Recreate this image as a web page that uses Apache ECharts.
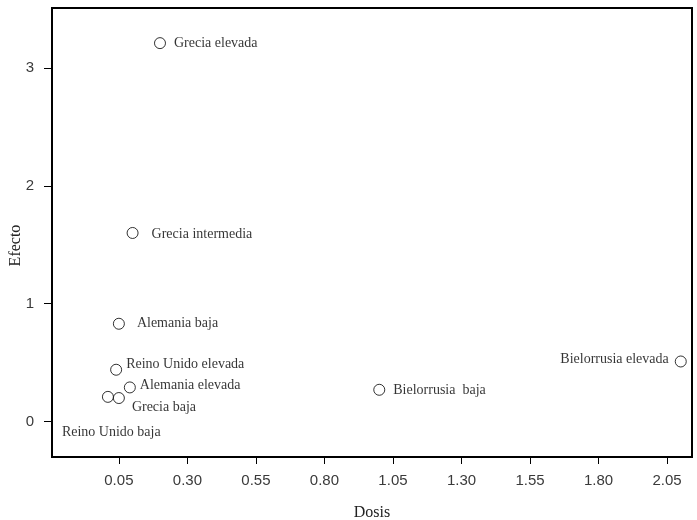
<!DOCTYPE html>
<html>
<head>
<meta charset="utf-8">
<script src="https://cdn.jsdelivr.net/npm/echarts@6/dist/echarts.min.js"></script>
<style>
  html, body { margin: 0; padding: 0; background: #fff; }
  #chart { width: 697px; height: 520px; }
</style>
</head>
<body>
<div id="chart"></div>
<script>
// Point names, dose (x) and effect (y)
const names = [
  'Grecia elevada', 'Grecia intermedia', 'Alemania baja', 'Reino Unido elevada',
  'Alemania elevada', 'Reino Unido baja', 'Grecia baja', 'Bielorrusia  baja',
  'Bielorrusia elevada'
];
const dosis  = [0.20, 0.10, 0.05, 0.04, 0.09, 0.01, 0.05, 1.00, 2.10];
const efecto = [3.21, 1.60, 0.83, 0.44, 0.29, 0.21, 0.20, 0.27, 0.51];

// Tick values
const xTicks = [0.05, 0.30, 0.55, 0.80, 1.05, 1.30, 1.55, 1.80, 2.05];
const yTicks = [0, 1, 2, 3];

// Where each name sits relative to its circle
const labelPlacement = {
  'Grecia elevada':      { position: 'right', offset: [8, 0] },
  'Grecia intermedia':   { position: 'right', offset: [13, 1] },
  'Alemania baja':       { position: 'right', offset: [12, 0] },
  'Reino Unido elevada': { position: 'right', offset: [4, -5] },
  'Alemania elevada':    { position: 'right', offset: [4, -2] },
  'Reino Unido baja':    { position: 'right', offset: [-52, 35] },
  'Grecia baja':         { position: 'right', offset: [7, 9] },
  'Bielorrusia  baja':   { position: 'right', offset: [8, 1] },
  'Bielorrusia elevada': { position: 'left',  offset: [-6, -2] }
};

const serif = '"Liberation Serif", "DejaVu Serif", serif';
const sans = '"Liberation Sans", Arial, sans-serif';

const points = names.map((n, i) => {
  const p = labelPlacement[n];
  return {
    name: n,
    value: [dosis[i], efecto[i]],
    label: { position: p.position, distance: 0, offset: p.offset }
  };
});

const chart = echarts.init(document.getElementById('chart'), null, { renderer: 'canvas' });

chart.setOption({
  animation: false,
  backgroundColor: '#ffffff',
  grid: {
    left: 52, right: 5, top: 8, bottom: 63,
    outerBoundsMode: 'none',
    containLabel: false,
    show: true, borderColor: '#000', borderWidth: 2, backgroundColor: 'transparent'
  },
  xAxis: {
    type: 'value',
    min: -0.194, max: 2.141,
    name: 'Dosis',
    nameLocation: 'middle',
    nameGap: 48,
    nameMoveOverlap: false,
    nameTextStyle: { fontFamily: serif, fontSize: 16, color: '#222' },
    axisLine: { show: false, onZero: false },
    splitLine: { show: false },
    axisTick: { show: true, length: 7, inside: false, customValues: xTicks,
                lineStyle: { color: '#000', width: 1 } },
    axisLabel: {
      customValues: xTicks,
      margin: 16,
      fontFamily: sans, fontSize: 15, color: '#3a3a3a',
      formatter: v => v.toFixed(2)
    }
  },
  yAxis: {
    type: 'value',
    min: -0.30, max: 3.508,
    name: 'Efecto',
    nameLocation: 'middle',
    nameGap: 28,
    nameMoveOverlap: false,
    nameTextStyle: { fontFamily: serif, fontSize: 16, color: '#222', padding: [0, 26, 0, 0] },
    axisLine: { show: false, onZero: false },
    splitLine: { show: false },
    axisTick: { show: true, length: 8, inside: false, customValues: yTicks,
                lineStyle: { color: '#000', width: 1 } },
    axisLabel: {
      customValues: yTicks,
      margin: 18,
      fontFamily: sans, fontSize: 15, color: '#3a3a3a',
      formatter: v => String(Math.round(v))
    }
  },
  series: [{
    type: 'scatter',
    symbol: 'circle',
    symbolSize: 11,
    itemStyle: { color: '#fff', borderColor: '#000', borderWidth: 1 },
    label: {
      show: true,
      formatter: p => p.name,
      fontFamily: serif, fontSize: 14, color: '#000'
    },
    data: points
  }]
});
</script>
</body>
</html>
